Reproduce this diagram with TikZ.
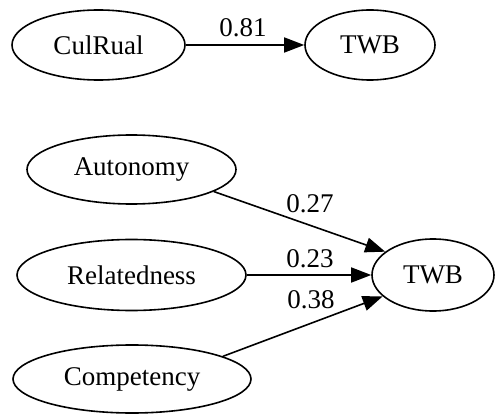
\documentclass[tikz,border=0pt]{standalone}
\usepackage{fontspec}
\setmainfont{Liberation Serif}
\usetikzlibrary{shapes.geometric,arrows.meta}
\begin{document}
\begin{tikzpicture}[x=1pt,y=-1pt,
  var/.style={draw,ellipse,line width=1.6pt,inner sep=0pt,font=\fontsize{27}{30}\selectfont},
  path/.style={draw,line width=1.6pt,-{Triangle[length=20pt,width=15pt]}},
  coef/.style={anchor=base,inner sep=0pt,font=\fontsize{27}{30}\selectfont}]
\useasboundingbox (0,0) rectangle (495,414);

% first model
\node[var,minimum width=173pt,minimum height=70pt] (cul) at (98.5,45) {CulRual};
\node[var,minimum width=130pt,minimum height=70pt] (twbA) at (370,45) {TWB};
\draw[path] (cul) -- (twbA);
\node[coef] (c81) at (243,37) {0.81};

% second model
\node[var,minimum width=209pt,minimum height=69pt] (aut) at (131.5,169.5) {Autonomy};
\node[var,minimum width=229pt,minimum height=71pt] (rel) at (131.5,275) {Relatedness};
\node[var,minimum width=238pt,minimum height=68pt] (com) at (132,379) {Competency};
\node[var,minimum width=122pt,minimum height=72pt] (twbB) at (433,275) {TWB};

\draw[path] (aut.-15.6) -- (twbB.154);
\draw[path] (rel) -- (twbB);
\draw[path] (com.14.5) -- (twbB.203.5);

\node[coef] (c27) at (310,212) {0.27};
\node[coef] (c23) at (310,267) {0.23};
\node[coef] (c38) at (311,308) {0.38};
\end{tikzpicture}
\end{document}
